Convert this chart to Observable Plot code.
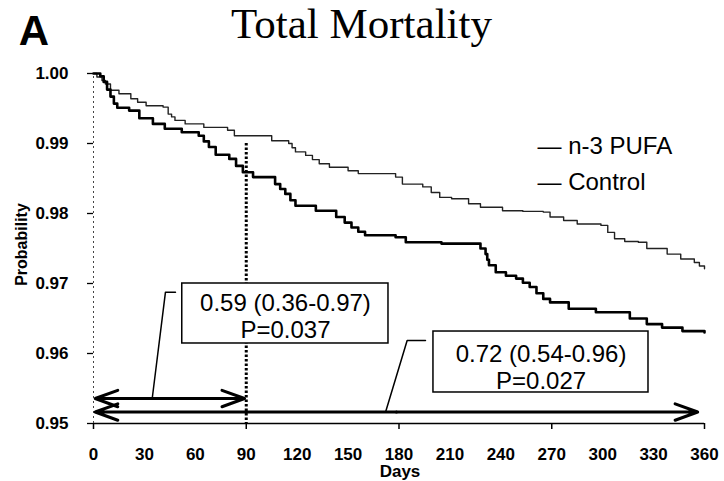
<!DOCTYPE html>
<html><head><meta charset="utf-8">
<script src="https://cdn.jsdelivr.net/npm/d3@7"></script>
<script src="https://cdn.jsdelivr.net/npm/@observablehq/plot@0.6"></script>
<style>body{margin:0;background:#fff}</style>
</head><body><div id="chart"></div>
<script>
// Kaplan-Meier survival
const controlDays = [0,4,6,8,10,12,14,21,27,35,42,52,62,65,68,72,80,84,88,94,107,110,113,116,119,131,143,148,152,156,160,178,184,205,228,231,232,233,237,243,249,253,257,261,265,269,280,296,316,326,335,347,360];
const controlSurv = [1.0000,0.9996,0.9988,0.9977,0.9967,0.9957,0.9951,0.9947,0.9936,0.9928,0.9921,0.9916,0.9911,0.9903,0.9895,0.9884,0.9878,0.9868,0.9859,0.9852,0.9842,0.9835,0.9828,0.9819,0.9811,0.9804,0.9795,0.9787,0.9780,0.9774,0.9769,0.9766,0.9759,0.9757,0.9750,0.9742,0.9734,0.9726,0.9716,0.9711,0.9707,0.9701,0.9695,0.9686,0.9678,0.9673,0.9664,0.9659,0.9650,0.9642,0.9637,0.9632,0.9630];
const pufaDays = [0,2,5,7,10,15,22,26,31,41,44,46,48,54,65,79,83,97,105,115,117,119,125,129,133,139,150,156,178,182,194,199,204,211,221,228,241,253,265,269,277,285,299,303,307,313,321,326,338,346,354,357,360];
const pufaSurv = [1.0000,0.9995,0.9990,0.9985,0.9976,0.9971,0.9964,0.9959,0.9954,0.9952,0.9942,0.9938,0.9933,0.9928,0.9923,0.9919,0.9911,0.9911,0.9904,0.9900,0.9894,0.9888,0.9883,0.9877,0.9871,0.9866,0.9861,0.9857,0.9852,0.9842,0.9838,0.9830,0.9823,0.9821,0.9814,0.9809,0.9804,0.9803,0.9802,0.9795,0.9790,0.9785,0.9783,0.9773,0.9764,0.9760,0.9759,0.9750,0.9742,0.9735,0.9730,0.9725,0.9721];

const seriesNames = ["n-3 PUFA", "Control"];
const yTicks = [0.95, 0.96, 0.97, 0.98, 0.99, 1.00];
const xLabelTicks = [0,30,60,90,120,150,180,210,240,270,300,330,360];
const xMajorTicks = [0,90,180,270,360];
const landmarkDay = 90;

// Hazard-ratio annotations
const hrText = ["0.59 (0.36-0.97)\nP=0.037", "0.72 (0.54-0.96)\nP=0.027"];
const boxDayFrom = [52.3, 200.3];
const boxDayTo = [173.8, 327.0];
const boxProbTop = [0.9700, 0.96314];
const boxProbBottom = [0.96143, 0.95443];
const boxTextDay = [113.1, 263.7];
const boxTextProb = [0.96536, 0.95807];
const arrowFrom = [1, 1];
const arrowTo = [89, 356];
const arrowProb = [0.95357, 0.95164];
const leaderDays = [[48.3, 42.4, 34.6], [195.6, 184.8, 172.1]];
const leaderProbs = [[0.96876, 0.96876, 0.95357], [0.96186, 0.96186, 0.95164]];

const control = controlDays.map((d, i) => ({day: d, p: controlSurv[i]}));
const pufa = pufaDays.map((d, i) => ({day: d, p: pufaSurv[i]}));
const boxes = hrText.map((t, i) => ({t, x1: boxDayFrom[i], x2: boxDayTo[i], y1: boxProbTop[i], y2: boxProbBottom[i], cx: boxTextDay[i], cy: boxTextProb[i]}));
const arrowSegs = arrowFrom.flatMap((a, i) => {
  const mid = (a + arrowTo[i]) / 2;
  return [{x1: mid, x2: a, y: arrowProb[i]}, {x1: mid, x2: arrowTo[i], y: arrowProb[i]}];
});
const leaders = leaderDays.flatMap((ds, i) => ds.map((d, j) => ({id: i, day: d, p: leaderProbs[i][j]})));

const font = "'Liberation Sans', Arial, sans-serif";
const legendDy = [73, 109];
const legendMarks = seriesNames.map((name, i) =>
  Plot.text([name], {text: d => "\u2014 " + d, frameAnchor: "top-left", dx: 444, dy: legendDy[i], textAnchor: "start", lineAnchor: "middle", fontSize: 24, fontWeight: "normal"})
);

const chart = Plot.plot({
  width: 724,
  height: 481,
  marginLeft: 93,
  marginRight: 20,
  marginTop: 73,
  marginBottom: 58,
  style: {fontFamily: font, fontSize: "17px", fontWeight: "bold", color: "#000", background: "#fff"},
  x: {domain: [0, 360]},
  y: {domain: [0.95, 1.0]},
  marks: [
    Plot.axisY({ticks: yTicks, tickFormat: d3.format(".2f"), tickSize: 6, tickPadding: 19, label: null, strokeWidth: 1.3}),
    Plot.axisX({ticks: xLabelTicks, tickSize: 0, tickPadding: 24, label: null}),
    Plot.axisX({ticks: xMajorTicks, tickSize: 6, tickFormat: () => "", label: null, strokeWidth: 1.5}),
    Plot.ruleY([0.95], {stroke: "#000", strokeWidth: 1.6}),
    Plot.ruleX([0], {y1: 0.95, y2: 1.0, stroke: "#444", strokeWidth: 1, strokeDasharray: "2,3"}),
    Plot.line(pufa, {x: "day", y: "p", curve: "step-after", stroke: "#222", strokeWidth: 1.4}),
    Plot.line(control, {x: "day", y: "p", curve: "step-after", stroke: "#000", strokeWidth: 2.6}),
    Plot.ruleX([landmarkDay], {y1: 0.99, y2: 0.95, stroke: "#000", strokeWidth: 3, strokeDasharray: "2.5,2"}),
    Plot.arrow(arrowSegs, {x1: "x1", x2: "x2", y1: "y", y2: "y", stroke: "#000", strokeWidth: 3, headLength: 12, headAngle: 40}),
    Plot.line(leaders, {x: "day", y: "p", z: "id", stroke: "#000", strokeWidth: 1.5}),
    Plot.rect(boxes, {x1: "x1", x2: "x2", y1: "y1", y2: "y2", fill: "#fff", stroke: "#000", strokeWidth: 1.5}),
    Plot.text(boxes, {x: "cx", y: "cy", text: "t", fontSize: 24, fontWeight: "normal", lineHeight: 1.1}),
    ...legendMarks,
    // axis titles
    Plot.text(["Days"], {frameAnchor: "bottom", dx: 1, dy: 48, textAnchor: "middle", lineAnchor: "middle", fontSize: 17, fontWeight: "bold"}),
    Plot.text(["Probability"], {frameAnchor: "left", dx: -72, dy: -4, rotate: -90, textAnchor: "middle", lineAnchor: "middle", fontSize: 16, fontWeight: "bold"}),
    // title and panel letter
    Plot.text(["Total Mortality"], {frameAnchor: "top", dx: -37.5, dy: -49, textAnchor: "middle", lineAnchor: "middle", fontSize: 43, fontWeight: "normal", fontFamily: "'Liberation Serif', 'Times New Roman', serif"}),
    Plot.text(["A"], {frameAnchor: "top-left", dx: -59.5, dy: -41.5, textAnchor: "middle", lineAnchor: "middle", fontSize: 42, fontWeight: 900})
  ]
});
document.getElementById("chart").appendChild(chart);
</script>
</body></html>
